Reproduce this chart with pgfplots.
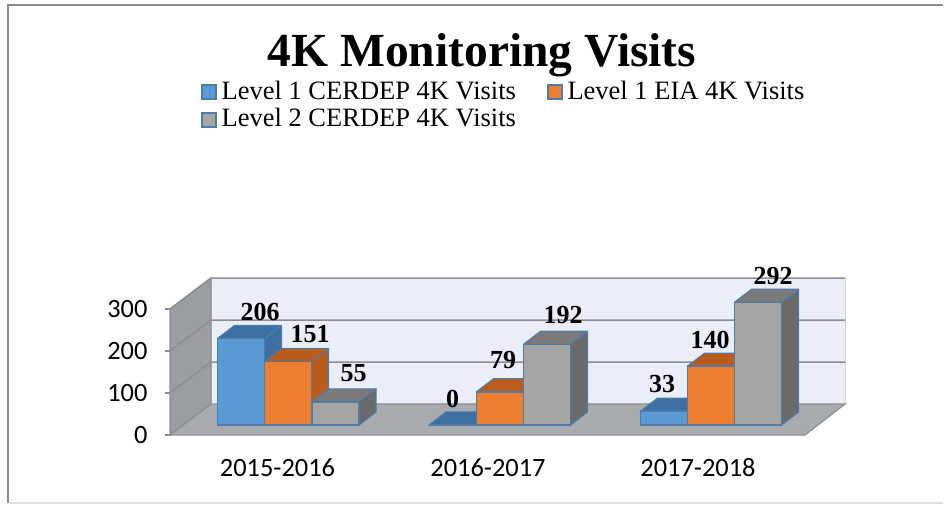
\documentclass[border=0pt]{standalone}
\usepackage{pgfplots}
\usepackage{fontspec}
\pgfplotsset{compat=1.18}
\setmainfont{Liberation Serif}
\newfontfamily\calibri{Carlito}
\definecolor{edge}{HTML}{4F7BA6}
\definecolor{blueF}{HTML}{5B9BD5}
\definecolor{blueS}{HTML}{3D6FA3}
\definecolor{orangeF}{HTML}{ED7D31}
\definecolor{orangeS}{HTML}{B95C1C}
\definecolor{grayF}{HTML}{A5A5A5}
\definecolor{grayT}{HTML}{7A7A7A}
\definecolor{grayS}{HTML}{6A6A6A}
\definecolor{wallL}{HTML}{9A9DA1}
\definecolor{floorC}{HTML}{A8ABAF}
\definecolor{wallB}{HTML}{E9EEF9}
\definecolor{gridC}{HTML}{8C8F92}
\definecolor{frameC}{HTML}{8A8A8A}
\newcommand{\faces}[4]{%
  \pgfmathsetmacro\xa{#1-23.5}\pgfmathsetmacro\xb{#1+23.5}%
  \pgfmathsetmacro\xc{#1+40.5}\pgfmathsetmacro\xd{#1-6.5}%
  \pgfmathsetmacro\vt{#2+31}%
  \addplot[forget plot,fill=#4,draw=edge,line width=1.2pt,line join=round,yshift=10pt] coordinates {(\xb,0) (\xc,31) (\xc,\vt) (\xb,#2)} --cycle;
  \addplot[forget plot,fill=#3,draw=edge,line width=1.2pt,line join=round,yshift=10pt] coordinates {(\xa,#2) (\xb,#2) (\xc,\vt) (\xd,\vt)} --cycle;
}
\pgfplotsset{barstyle/.style={ybar,bar width=47pt,bar shift=0pt,draw=edge,line width=1.5pt,yshift=10pt,
  visualization depends on={\thisrow{ox} \as \ox},
  visualization depends on={\thisrow{oy} \as \oy},
  nodes near coords,
  every node near coord/.append style={anchor=base,text=black,inner sep=0pt,font=\bfseries\fontsize{26}{28}\selectfont,xshift=\ox pt,yshift=\oy pt}}}
\begin{document}
\begin{tikzpicture}
\begin{axis}[
  scale only axis,width=675pt,height=157pt,
  xmin=170,xmax=845,ymin=0,ymax=373.8,
  clip=false,
  axis line style={draw=none},
  xtick={277.5,488,698},
  xticklabels={2015-2016,2016-2017,2017-2018},
  ytick={0,100,200,300},
  ytick pos=left,
  xtick pos=bottom,
  x tick style={draw=none},
  y tick style={draw=gridC,line width=1.2pt},
  tick align=outside,
  major tick length=5pt,
  yticklabel style={xshift=-14pt},
  xticklabel style={anchor=base,yshift=-36pt},
  tick label style={font=\calibri\fontsize{26.4}{30}\selectfont},
  /pgf/number format/assume math mode=true,
  title={4K Monitoring Visits},
  title style={at={(0.4622,2.312)},anchor=base,font=\bfseries\fontsize{47.5}{50}\selectfont,inner sep=0pt},
  legend columns=2,
  legend cell align=left,
  legend style={at={(0.0459,2.271)},anchor=north west,draw=none,fill=none,inner sep=0pt,
    font=\fontsize{26.5}{27}\selectfont,
    /tikz/every even column/.append style={column sep=29pt},
    row sep=4pt},
  legend image code/.code={\draw[#1,ybar,draw=edge,line width=1.5pt] (0pt,-18.5pt) rectangle (14pt,-4.5pt);\node[inner sep=0pt,minimum size=0pt,draw=none,fill=none] at (17pt,-10pt) {};},
]
% page extent and outer frame
\path (axis cs:0,-164.29) rectangle (axis cs:944,1035.71);
\addplot[forget plot,draw=frameC,line width=2pt] coordinates {(8,-161.9) (8,1023.8) (943,1023.8)};
\addplot[forget plot,draw=black!12,line width=1.2pt] coordinates {(9,-161.9) (943,-161.9)};
% walls and floor
\addplot[forget plot,fill=wallB,draw=gridC!40,line width=0.8pt] coordinates {(211,73.8) (845,73.8) (845,373.8) (211,373.8)} --cycle;
\addplot[forget plot,fill=wallL,draw=gridC,line width=1.2pt] coordinates {(170,0) (211,73.8) (211,373.8) (170,300)} --cycle;
\addplot[forget plot,fill=floorC,draw=gridC,line width=1.2pt] coordinates {(170,0) (805,0) (845,73.8) (211,73.8)} --cycle;
% gridlines
\addplot[forget plot,draw=gridC,line width=1.5pt] coordinates {(170,100) (211,173.8) (845,173.8)};
\addplot[forget plot,draw=gridC,line width=1.5pt] coordinates {(170,200) (211,273.8) (845,273.8)};
\addplot[forget plot,draw=gridC,line width=1.5pt] coordinates {(170,300) (211,373.8) (845,373.8)};
% Level 1 CERDEP
\faces{241}{206}{blueS}{blueS}
\faces{452.5}{0}{blueS}{blueS}
\faces{664}{33}{blueS}{blueS}
\addplot[barstyle,fill=blueF] table {
x y ox oy
241 206 19 18
452.5 0 0 18
664 33 -2 19
};
\addlegendentry{Level 1 CERDEP 4K Visits}
% Level 1 EIA
\faces{288}{151}{orangeS}{orangeS}
\faces{500}{79}{orangeS}{orangeS}
\faces{711}{140}{orangeS}{orangeS}
\addplot[barstyle,fill=orangeF] table {
x y ox oy
288 151 22 19
500 79 3 23
711 140 -1 18
};
\addlegendentry{Level 1 EIA 4K Visits}
% Level 2 CERDEP
\faces{335.5}{55}{grayT}{grayS}
\faces{547}{192}{grayT}{grayS}
\faces{758}{292}{grayT}{grayS}
\addplot[barstyle,fill=grayF] table {
x y ox oy
335.5 55 18 20
547 192 16 21
758 292 15 18
};
\addlegendentry{Level 2 CERDEP 4K Visits}
\end{axis}
\end{tikzpicture}
\end{document}
